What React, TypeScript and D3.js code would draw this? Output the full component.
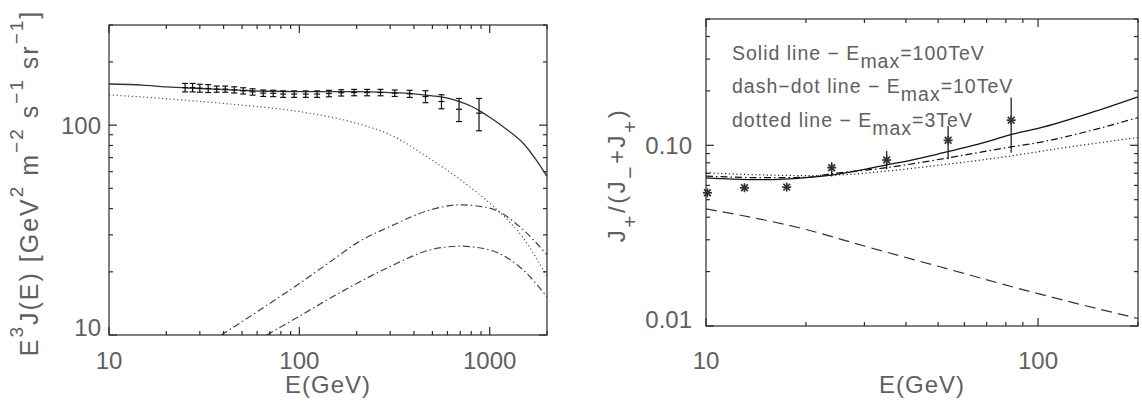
import React from 'react';
import * as d3 from 'd3';

const W = 1142;
const H = 407;

// ---------- Left panel: E^3 J(E) ----------
const leftPtsE = [25.1, 27.5, 30.0, 33.2, 36.8, 40.8, 45.5, 50.7, 56.8, 64.6, 72.9, 82.2, 93.9, 108, 124, 143, 166, 194, 227, 267, 317, 380, 460, 558, 690, 879];
const leftPtsV = [151, 151, 150, 149.5, 148.5, 148.5, 147.3, 145.7, 144, 142, 141.7, 140.6, 140.6, 140.6, 140.6, 141.5, 142.6, 143, 143, 143, 142, 141, 136.9, 129.6, 119, 114];
const leftPtsErr = [7, 7, 6.5, 6.5, 5, 5, 5, 5, 5, 5, 5, 5, 5, 5, 5, 5, 5, 5, 5, 5, 5, 5.5, 9, 10, 15, 20];

const solidLE = [10, 15, 20, 30, 50, 70, 100, 150, 200, 300, 400, 500, 600, 700, 800, 900, 1000, 1200, 1500, 1750, 2000];
const solidLV = [157, 155, 152, 149.5, 146.5, 145, 144.5, 144.5, 144.5, 143, 141, 138, 134.5, 129, 123, 116, 109, 97, 82, 68.5, 57];

const dotLE = [10, 25, 50, 100, 200, 300, 500, 700, 1000, 1200, 1500, 2000];
const dotLV = [139.5, 131.5, 124.5, 116, 102, 90, 68, 55, 42.5, 36.5, 29, 19];

const dashDot1E = [38.9, 60, 100, 150, 200, 300, 500, 700, 1000, 1500, 2000];
const dashDot1V = [10, 12.9, 17.6, 22.8, 27.4, 32.9, 39.7, 41.7, 40.2, 31.7, 24.1];

const dashDot2E = [67.5, 100, 200, 300, 500, 700, 1000, 1500, 2000];
const dashDot2V = [10, 12.3, 17.6, 21.2, 25.6, 26.5, 25.4, 20.4, 15.2];

const leftXTicks = [10, 100, 1000];
const leftYTicks = [10, 100];

// ---------- Right panel: positron fraction ----------
const rightPtsE = [10.1, 13.06, 17.5, 23.9, 35.0, 53.6, 83.0];
const rightPtsV = [0.0546, 0.0582, 0.0587, 0.0752, 0.0829, 0.1066, 0.1377];
const rightPtsLo = [0.0526, 0.0562, 0.0567, 0.0673, 0.0736, 0.0836, 0.091];
const rightPtsHi = [0.0566, 0.0602, 0.0607, 0.0805, 0.0929, 0.128, 0.184];

const solidRE = [10, 12, 15, 20, 25, 30, 35, 40, 50, 60, 70, 85, 100, 150, 200];
const solidRV = [0.066, 0.065, 0.0645, 0.0662, 0.0693, 0.0735, 0.078, 0.0815, 0.0895, 0.097, 0.1045, 0.116, 0.124, 0.155, 0.1855];

const dashDotRE = [10, 15, 20, 24, 35, 54, 83, 100, 150, 200];
const dashDotRV = [0.0675, 0.0662, 0.0665, 0.0697, 0.0752, 0.0854, 0.098, 0.1035, 0.123, 0.1425];

const dottedRE = [10, 15, 20, 25, 35, 50, 80, 120, 200];
const dottedRV = [0.0705, 0.0685, 0.068, 0.0685, 0.072, 0.0775, 0.0865, 0.097, 0.1105];

const dashedRE = [10, 20, 30, 50, 100, 200];
const dashedRV = [0.0445, 0.0342, 0.0277, 0.0214, 0.0151, 0.011];

const rightXTicks = [10, 100];
const rightYTicks = [0.01, 0.1];
const rightYTickLabels = ['0.01', '0.10'];

const legendLines = [
  { pre: 'Solid line \u2212 E', post: '=100TeV' },
  { pre: 'dash\u2212dot line \u2212 E', post: '=10TeV' },
  { pre: 'dotted line \u2212 E', post: '=3TeV' },
];

const FONT = '"Liberation Sans", Arial, sans-serif';
const TXT = '#606060';
const AX = '#2a2a2a';

function isMajor(v: number) {
  const l = Math.log10(v);
  return Math.abs(l - Math.round(l)) < 1e-9;
}

function Frame({ x, y }: { x: any; y: any }) {
  const [x0, x1] = x.range();
  const [y0, y1] = y.range(); // y0 bottom, y1 top
  const maj = 8;
  const min = 4;
  const items: any[] = [];
  x.ticks().forEach((v: number, i: number) => {
    const px = x(v);
    const len = isMajor(v) ? maj : min;
    items.push(<line key={'xb' + i} x1={px} x2={px} y1={y0} y2={y0 - len} />);
    items.push(<line key={'xt' + i} x1={px} x2={px} y1={y1} y2={y1 + len} />);
  });
  y.ticks().forEach((v: number, i: number) => {
    const py = y(v);
    const len = isMajor(v) ? maj : min;
    items.push(<line key={'yl' + i} x1={x0} x2={x0 + len} y1={py} y2={py} />);
    items.push(<line key={'yr' + i} x1={x1} x2={x1 - len} y1={py} y2={py} />);
  });
  return (
    <g stroke={AX} strokeWidth={1.2} fill="none">
      <rect x={x0} y={y1} width={x1 - x0} height={y0 - y1} />
      {items}
    </g>
  );
}

export default function App() {
  const xL = d3.scaleLog().domain([10, 2000]).range([109, 547]);
  const yL = d3.scaleLog().domain([10, 300]).range([335, 25]);
  const xR = d3.scaleLog().domain([10, 200]).range([706, 1138]);
  const yR = d3.scaleLog().domain([0.01, 0.5]).range([326, 19]);

  const mkLine = (xs: any, ys: any, es: number[], vs: number[]) =>
    d3
      .line<number>()
      .x((_, i) => xs(es[i]))
      .y((_, i) => ys(vs[i]))
      .curve(d3.curveMonotoneX)(es) || '';

  const cap = 3;
  const astR = 4.5;
  const supUp = 15;
  const supSize = 19;

  return (
    <svg
      width={W}
      height={H}
      style={{ position: 'absolute', left: 0, top: 0, background: '#fff' }}
      fontFamily={FONT}
    >
      <defs>
        <clipPath id="clipL">
          <rect x={109} y={25} width={438} height={310} />
        </clipPath>
        <clipPath id="clipR">
          <rect x={706} y={19} width={432} height={307} />
        </clipPath>
      </defs>
      <rect x={0} y={0} width={W} height={H} fill="#fff" />

      {/* ---------------- Left panel ---------------- */}
      <g clipPath="url(#clipL)" fill="none">
        <path d={mkLine(xL, yL, solidLE, solidLV)} stroke="#333" strokeWidth={1.3} />
        <path d={mkLine(xL, yL, dotLE, dotLV)} stroke="#555" strokeWidth={1.2} strokeDasharray="1.2 2.6" />
        <path d={mkLine(xL, yL, dashDot1E, dashDot1V)} stroke="#444" strokeWidth={1.2} strokeDasharray="7 3 1.5 3" />
        <path d={mkLine(xL, yL, dashDot2E, dashDot2V)} stroke="#444" strokeWidth={1.2} strokeDasharray="7 3 1.5 3" />
      </g>
      <g stroke="#111" strokeWidth={1.2}>
        {leftPtsE.map((e, i) => {
          const px = xL(e);
          const py = yL(leftPtsV[i]);
          const pt = yL(leftPtsV[i] + leftPtsErr[i]);
          const pb = yL(leftPtsV[i] - leftPtsErr[i]);
          return (
            <g key={'lp' + i}>
              <line x1={px} x2={px} y1={pt} y2={pb} />
              <line x1={px - cap} x2={px + cap} y1={pt} y2={pt} />
              <line x1={px - cap} x2={px + cap} y1={pb} y2={pb} />
              <line x1={px - cap} x2={px + cap} y1={py} y2={py} />
            </g>
          );
        })}
      </g>
      <Frame x={xL} y={yL} />
      <g fill={TXT} fontSize={24}>
        {leftXTicks.map((v) => (
          <text key={'lxt' + v} x={xL(v)} y={369} textAnchor="middle">
            {String(v)}
          </text>
        ))}
        {leftYTicks.map((v) => (
          <text
            key={'lyt' + v}
            x={101}
            y={v === 10 ? yL(v) + 1 : yL(v) + 8.5}
            textAnchor="end"
          >
            {String(v)}
          </text>
        ))}
        <text x={(109 + 547) / 2} y={393} textAnchor="middle" letterSpacing={1}>
          E(GeV)
        </text>
      </g>
      <text
        transform="translate(38,183) rotate(-90)"
        textAnchor="middle"
        fontSize={25}
        fill={TXT}
        letterSpacing={2}
      >
        <tspan>E</tspan>
        <tspan dy={-supUp} fontSize={supSize}>3</tspan>
        <tspan dy={supUp}>J(E)  [GeV</tspan>
        <tspan dy={-supUp} fontSize={supSize}>2</tspan>
        <tspan dy={supUp}> m</tspan>
        <tspan dy={-supUp} fontSize={supSize}>{'\u22122'}</tspan>
        <tspan dy={supUp}> s</tspan>
        <tspan dy={-supUp} fontSize={supSize}>{'\u22121'}</tspan>
        <tspan dy={supUp}> sr</tspan>
        <tspan dy={-supUp} fontSize={supSize}>{'\u22121'}</tspan>
        <tspan dy={supUp}>]</tspan>
      </text>

      {/* ---------------- Right panel ---------------- */}
      <g clipPath="url(#clipR)" fill="none">
        <path d={mkLine(xR, yR, solidRE, solidRV)} stroke="#111" strokeWidth={1.3} />
        <path d={mkLine(xR, yR, dashDotRE, dashDotRV)} stroke="#111" strokeWidth={1.2} strokeDasharray="7 3 1.5 3" />
        <path d={mkLine(xR, yR, dottedRE, dottedRV)} stroke="#222" strokeWidth={1.2} strokeDasharray="1.2 2.6" />
        <path d={mkLine(xR, yR, dashedRE, dashedRV)} stroke="#333" strokeWidth={1.2} strokeDasharray="11 6" />
      </g>
      <g stroke="#333" strokeWidth={1.7}>
        {rightPtsE.map((e, i) => {
          const px = xR(e);
          const py = yR(rightPtsV[i]);
          const d = astR * 0.75;
          return (
            <g key={'rp' + i}>
              <line x1={px} x2={px} y1={yR(rightPtsHi[i])} y2={yR(rightPtsLo[i])} stroke="#111" strokeWidth={1.2} />
              <line x1={px} x2={px} y1={py - astR} y2={py + astR} />
              <line x1={px - astR} x2={px + astR} y1={py} y2={py} />
              <line x1={px - d} x2={px + d} y1={py - d} y2={py + d} />
              <line x1={px - d} x2={px + d} y1={py + d} y2={py - d} />
            </g>
          );
        })}
      </g>
      <Frame x={xR} y={yR} />
      <g fill={TXT} fontSize={24}>
        {rightXTicks.map((v) => (
          <text key={'rxt' + v} x={xR(v)} y={369} textAnchor="middle">
            {String(v)}
          </text>
        ))}
        {rightYTicks.map((v, i) => (
          <text
            key={'ryt' + v}
            x={692}
            y={i === 0 ? yR(v) + 2 : yR(v) + 8.5}
            textAnchor="end"
          >
            {rightYTickLabels[i]}
          </text>
        ))}
        <text x={(706 + 1138) / 2} y={393} textAnchor="middle" letterSpacing={1}>
          E(GeV)
        </text>
      </g>
      <text
        transform="translate(625,175) rotate(-90)"
        textAnchor="middle"
        fontSize={24}
        fill={TXT}
        letterSpacing={2.5}
      >
        <tspan>J</tspan>
        <tspan dy={12} fontSize={21}>+</tspan>
        <tspan dy={-12}>/(J</tspan>
        <tspan dy={12} fontSize={21}>{'\u2212'}</tspan>
        <tspan dy={-12}>+J</tspan>
        <tspan dy={12} fontSize={21}>+</tspan>
        <tspan dy={-12}>)</tspan>
      </text>
      <g fill={TXT} fontSize={19.5} letterSpacing={1}>
        {legendLines.map((l, i) => (
          <text key={'lg' + i} x={732} y={60 + i * 33.3}>
            <tspan>{l.pre}</tspan>
            <tspan dy={8}>max</tspan>
            <tspan dy={-8}>{l.post}</tspan>
          </text>
        ))}
      </g>
    </svg>
  );
}
